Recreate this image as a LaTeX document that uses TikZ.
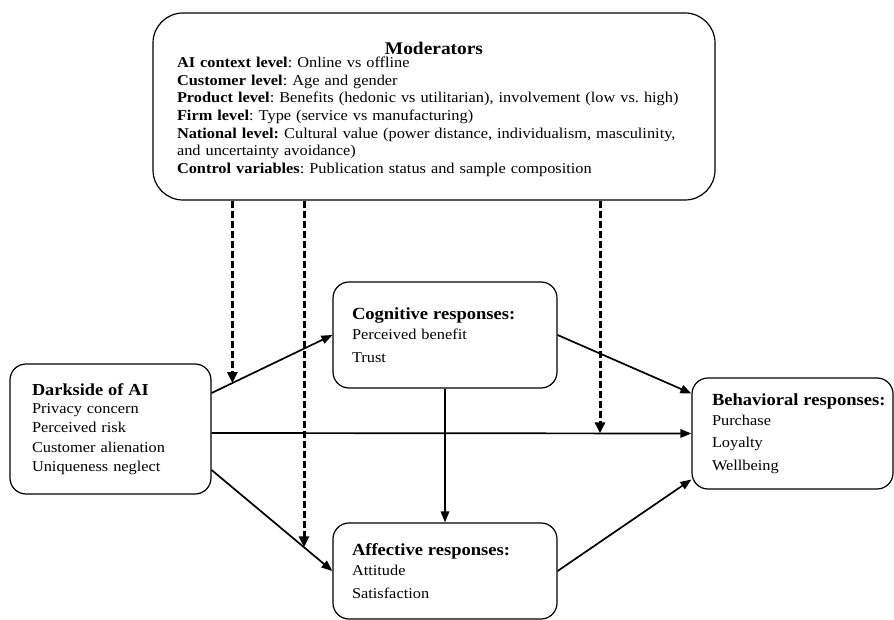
\documentclass[tikz,border=0pt]{standalone}
\usepackage{fontspec}
\setmainfont{Liberation Serif}[FakeStretch=1.09]
\usetikzlibrary{arrows.meta}

\newcommand{\boxhead}[2]{\mbox{\fontsize{#1}{#1}\selectfont\bfseries #2}}

\begin{document}
\frenchspacing
\begin{tikzpicture}[x=1pt, y=-1pt]
  \tikzset{box/.style={draw, line width=1.2pt, rounded corners=16pt, align=left,
      font=\fontsize{15}{22.5}\selectfont},
    link/.style={line width=1.7pt, -{Triangle[length=11pt,width=8.5pt]}},
    modlink/.style={line width=3pt, dash pattern=on 7pt off 3pt,
      -{Triangle[length=11pt,width=10pt]}}}
  \useasboundingbox (0,0) rectangle (894,620);
  \node[box, rounded corners=30pt, text width=514pt, inner xsep=24pt, minimum height=187pt,
      font=\fontsize{15}{17.6}\selectfont] (mod) at (434,106.5)
    {\hbox to\hsize{\hfil\rule{0pt}{18pt}\boxhead{17.8}{Moderators}\hfil}\\[-4.5pt]
     \textbf{AI context level}: Online vs offline\\
     \textbf{Customer level}: Age and gender\\
     \textbf{Product level}: Benefits (hedonic vs utilitarian), involvement (low vs. high)\\
     \textbf{Firm level}: Type (service vs manufacturing)\\
     \textbf{National level:} Cultural value (power distance, individualism, masculinity,\\
     and uncertainty avoidance)\\
     \textbf{Control variables}: Publication status and sample composition};
  \node[box, text width=157pt, inner xsep=22pt, minimum height=130pt,
      font=\fontsize{15}{19.3}\selectfont] (dark) at (110.5,429)
    {\boxhead{16.8}{Darkside of AI}\\[-1pt]
     Privacy concern\\
     Perceived risk\\
     Customer alienation\\
     Uniqueness neglect};
  \node[box, text width=186pt, inner xsep=19pt, minimum height=106pt] (cog) at (445,335)
    {\boxhead{17}{Cognitive responses:}\\[-2pt]
     Perceived benefit\\
     Trust};
  \node[box, text width=186pt, inner xsep=19pt, minimum height=96pt] (aff) at (445,571)
    {\boxhead{17}{Affective responses:}\\[-2pt]
     Attitude\\
     Satisfaction};
  \node[box, text width=161pt, inner xsep=20pt, minimum height=111pt] (beh) at (792.5,433.5)
    {\boxhead{17}{Behavioral responses:}\\[-3pt]
     Purchase\\
     Loyalty\\
     Wellbeing};
  \draw[link] ([yshift=36pt]dark.east) -- coordinate[pos=0.172] (m1) (cog.west);
  \draw[link] ([yshift=-41pt]dark.east) -- coordinate[pos=0.765] (m2) (aff.west);
  \draw[link] ([yshift=-4pt]dark.east) -- coordinate[pos=0.8095] (m3) (beh.west);
  \draw[link] (cog.south) -- (aff.north);
  \draw[link] (cog.east) -- ([yshift=40pt]beh.west);
  \draw[link] (aff.east) -- ([yshift=-46pt]beh.west);
  \draw[modlink] (mod.south -| m1) -- (m1);
  \draw[modlink] (mod.south -| m2) -- (m2);
  \draw[modlink] (mod.south -| m3) -- (m3);
\end{tikzpicture}
\end{document}
